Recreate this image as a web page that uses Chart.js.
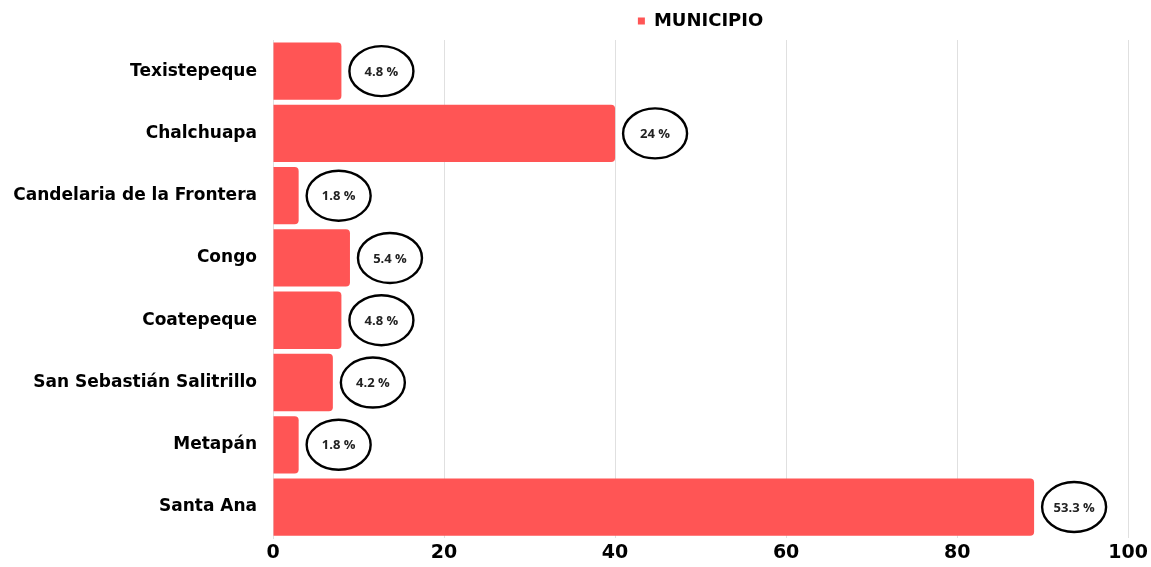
<!DOCTYPE html>
<html>
<head>
<meta charset="utf-8">
<script src="https://cdn.jsdelivr.net/npm/chart.js@4"></script>
<style>
  html, body { margin: 0; padding: 0; background: #fff; }
</style>
</head>
<body>
<canvas id="barChart" width="1151" height="567"></canvas>
<script>
const categories = ["Texistepeque", "Chalchuapa", "Candelaria de la Frontera", "Congo", "Coatepeque", "San Sebastián Salitrillo", "Metapán", "Santa Ana"];
const values = [8, 40, 3, 9, 8, 7, 3, 89];
const percentLabels = ["4.8 %", "24 %", "1.8 %", "5.4 %", "4.8 %", "4.2 %", "1.8 %", "53.3 %"];
const xTicks = [0, 20, 40, 60, 80, 100];

// draws the percentage inside an ellipse just past each bar
const ellipseLabels = {
    id: 'ellipseLabels',
    afterDatasetsDraw(chart) {
        const ctx = chart.ctx;
        const meta = chart.getDatasetMeta(0);
        ctx.save();
        meta.data.forEach((bar, i) => {
            const cx = bar.x + 40;
            const cy = bar.y;
            ctx.beginPath();
            ctx.ellipse(cx, cy, 32, 25, 0, 0, Math.PI * 2);
            ctx.lineWidth = 2.4;
            ctx.strokeStyle = '#000';
            ctx.stroke();
            ctx.fillStyle = '#222';
            ctx.font = 'bold 13px "Open Sans"';
            ctx.textAlign = 'center';
            ctx.textBaseline = 'middle';
            ctx.fillText(percentLabels[i], cx, cy + 1);
        });
        ctx.restore();
    }
};

const labelFont = { family: 'DejaVu Sans', size: 17, weight: 'bold' };

const ctx = document.getElementById("barChart").getContext('2d');
const chart = new Chart(ctx, {
    type: 'bar',
    data: {
        labels: categories,
        datasets: [{
            label: 'MUNICIPIO',
            data: values,
            backgroundColor: '#FF5555',
            borderRadius: 4,
            borderSkipped: 'start',
            barPercentage: 0.92,
            categoryPercentage: 1
        }]
    },
    options: {
        indexAxis: 'y',
        responsive: false,
        animation: false,
        layout: { padding: { top: 4, right: 19, left: 0, bottom: 0 } },
        plugins: {
            legend: {
                display: true,
                fullSize: false,
                labels: {
                    boxWidth: 7,
                    boxHeight: 7,
                    color: '#000',
                    padding: 8,
                    font: { family: 'DejaVu Sans', size: 18, weight: 'bold' }
                }
            },
            tooltip: { enabled: false }
        },
        scales: {
            x: {
                min: 0,
                max: 100,
                afterBuildTicks: (axis) => { axis.ticks = xTicks.map(v => ({ value: v })); },
                grid: { display: true, color: '#e0e0e0', drawTicks: false },
                border: { display: false },
                ticks: {
                    color: '#000',
                    padding: 3,
                    font: { family: 'DejaVu Sans', size: 19, weight: 'bold' }
                }
            },
            y: {
                afterFit: (axis) => { axis.width = 273; },
                grid: { display: false },
                border: { display: true, color: '#e0e0e0' },
                ticks: {
                    color: '#000',
                    padding: 8,
                    font: labelFont
                }
            }
        }
    },
    plugins: [ellipseLabels]
});
</script>
</body>
</html>
